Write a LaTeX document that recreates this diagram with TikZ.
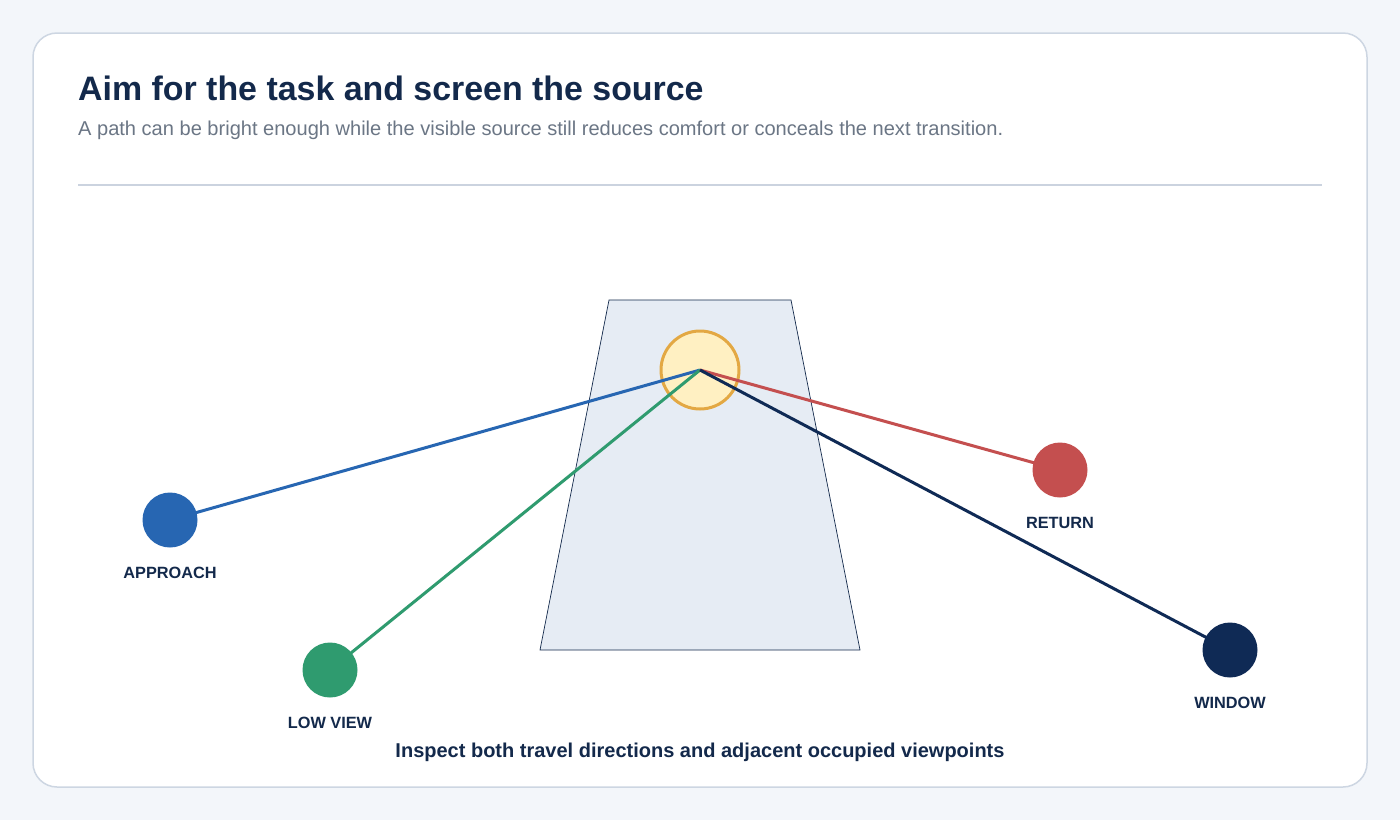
\documentclass[tikz,border=0pt]{standalone}
\usepackage{fontspec}
\setmainfont{Liberation Sans}
\definecolor{bgc}{HTML}{F3F6FA}
\definecolor{cardedge}{HTML}{CDD6E2}
\definecolor{navy}{HTML}{13294B}
\definecolor{subgray}{HTML}{6B7685}
\definecolor{rulec}{HTML}{CBD3DF}
\definecolor{trapfill}{HTML}{E6ECF4}
\definecolor{srcfill}{HTML}{FFF0C2}
\definecolor{srcedge}{HTML}{E3A843}
\definecolor{cblue}{HTML}{2766B2}
\definecolor{cgreen}{HTML}{2F9B6F}
\definecolor{cred}{HTML}{C44F4F}
\definecolor{cnavy}{HTML}{0F2A55}
\tikzset{
  viewpt/.style={circle, minimum size=54pt, inner sep=0pt, draw=none},
  vlabel/.style={font=\fontsize{16.3}{18}\selectfont\bfseries, text=navy, inner sep=0pt},
  ray/.style={line width=3pt},
}
\begin{document}
\begin{tikzpicture}[x=1pt,y=-1pt]
\useasboundingbox (0,0) rectangle (1400,820);
\fill[bgc] (0,0) rectangle (1400,820);
\filldraw[fill=white, draw=cardedge, line width=1.5pt, rounded corners=24pt] (33,33) rectangle (1367,787);
\node[anchor=base west, font=\fontsize{33.9}{40}\selectfont\bfseries, text=navy, inner sep=0pt] (title) at (78,100) {Aim for the task and screen the source};
\node[anchor=base west, font=\fontsize{20.05}{24}\selectfont, text=subgray, inner sep=0pt] (subtitle) at (78,135) {A path can be bright enough while the visible source still reduces comfort or conceals the next transition.};
\draw[rulec, line width=1.5pt] (78,185) -- (1322,185);
\filldraw[fill=trapfill, draw=navy, line width=0.7pt] (609,300) -- (791,300) -- (860,650) -- (540,650) -- cycle;
\node[circle, minimum size=78pt, inner sep=0pt, fill=srcfill, draw=srcedge, line width=3pt] (src) at (700,370) {};
\coordinate (c) at (700,370);
\node[viewpt] (app) at (170,520) {};
\node[viewpt] (low) at (330,670) {};
\node[viewpt] (ret) at (1060,470) {};
\node[viewpt] (win) at (1230,650) {};
\draw[ray, cblue] (c) -- (app.center);
\draw[ray, cgreen] (c) -- (low.center);
\draw[ray, cred] (c) -- (ret.center);
\draw[ray, cnavy] (c) -- (win.center);
\fill[cblue] (app) circle (27.5);
\fill[cgreen] (low) circle (27.5);
\fill[cred] (ret) circle (27.5);
\fill[cnavy] (win) circle (27.5);
\node[vlabel, anchor=base] (lapp) at (170,578) {APPROACH};
\node[vlabel, anchor=base] (llow) at (330,728) {LOW VIEW};
\node[vlabel, anchor=base] (lret) at (1060,528) {RETURN};
\node[vlabel, anchor=base] (lwin) at (1230,708) {WINDOW};
\node[anchor=base, font=\fontsize{20}{24}\selectfont\bfseries, text=navy, inner sep=0pt] (caption) at (700,757) {Inspect both travel directions and adjacent occupied viewpoints};
\end{tikzpicture}
\end{document}
